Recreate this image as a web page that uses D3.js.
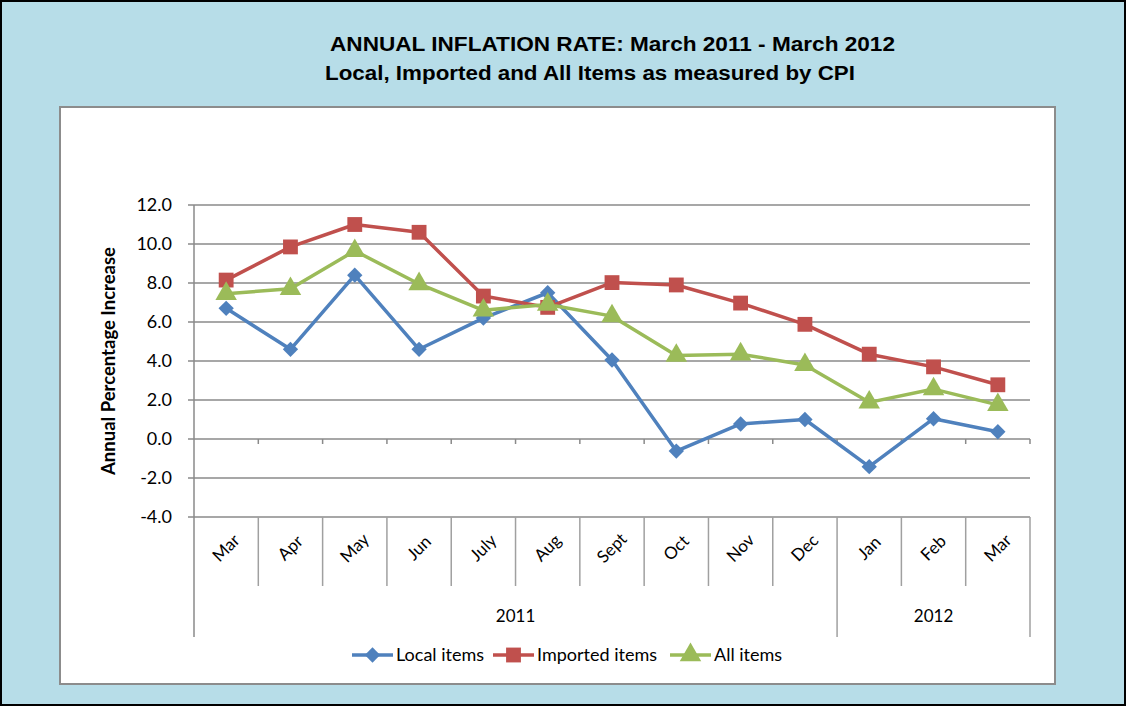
<!DOCTYPE html>
<html>
<head>
<meta charset="utf-8">
<script src="https://cdn.jsdelivr.net/npm/d3@7"></script>
<style>
  body { margin: 0; padding: 0; background: #ffffff; }
  svg { display: block; }
</style>
</head>
<body>
<div id="chart"></div>
<script>
// data
const MONTHS = ["Mar", "Apr", "May", "Jun", "July", "Aug", "Sept", "Oct", "Nov", "Dec", "Jan", "Feb", "Mar"];
const YEARS = [{ label: "2011", from: 0, to: 10 }, { label: "2012", from: 10, to: 13 }];
const LOCAL = [6.7, 4.6, 8.4, 4.6, 6.2, 7.5, 4.05, -0.62, 0.77, 1.0, -1.42, 1.04, 0.37];
const IMPORTED = [8.15, 9.85, 11.0, 10.6, 7.33, 6.75, 8.02, 7.9, 6.97, 5.88, 4.35, 3.7, 2.78];
const ALL = [7.45, 7.7, 9.65, 7.95, 6.6, 6.9, 6.3, 4.28, 4.35, 3.8, 1.88, 2.56, 1.75];
const Y_TICKS = [-4, -2, 0, 2, 4, 6, 8, 10, 12];
const SERIES_NAMES = ["Local items", "Imported items", "All items"];

const FRAME_WIDTH = 1126;
const FRAME_HEIGHT = 706;
const PLOT = { left: 194, right: 1030, top: 205, bottom: 517 };

const COLORS = ["#4f81bd", "#c0504d", "#9bbb59"];
const SYMBOLS = [d3.symbolDiamond2, d3.symbolSquare, d3.symbolTriangle];
const SYM_SIZE = [150, 220, 200];

const FRAME = d3.select("#chart")
    .append("svg")
    .attr("width", FRAME_WIDTH)
    .attr("height", FRAME_HEIGHT);

// outer background + black border
FRAME.append("rect")
    .attr("x", 1).attr("y", 1)
    .attr("width", FRAME_WIDTH - 2).attr("height", FRAME_HEIGHT - 2)
    .attr("fill", "#b7dde8")
    .attr("stroke", "#000").attr("stroke-width", 2);

// titles
FRAME.append("text")
    .attr("x", 330).attr("y", 51)
    .attr("font-family", "Liberation Sans, Arial, sans-serif")
    .attr("font-weight", "bold").attr("font-size", "20px")
    .attr("textLength", 565).attr("lengthAdjust", "spacingAndGlyphs")
    .text("ANNUAL INFLATION RATE: March 2011 - March 2012");
FRAME.append("text")
    .attr("x", 325).attr("y", 80)
    .attr("font-family", "Liberation Sans, Arial, sans-serif")
    .attr("font-weight", "bold").attr("font-size", "20px")
    .attr("textLength", 530).attr("lengthAdjust", "spacingAndGlyphs")
    .text("Local, Imported and All Items as measured by CPI");

// white chart box
FRAME.append("rect")
    .attr("x", 60).attr("y", 107)
    .attr("width", 995).attr("height", 577)
    .attr("fill", "#fff")
    .attr("stroke", "#8c8c8c").attr("stroke-width", 2);

const X_SCALE = d3.scaleBand()
    .domain(d3.range(MONTHS.length))
    .range([PLOT.left, PLOT.right]);
const Y_SCALE = d3.scaleLinear()
    .domain([-4, 12])
    .range([PLOT.bottom, PLOT.top]);

const FONT = "Lato, 'Open Sans', sans-serif";

// gridlines
FRAME.append("g")
    .selectAll("line")
    .data(Y_TICKS)
    .enter()
    .append("line")
    .attr("x1", PLOT.left - 6).attr("x2", PLOT.right)
    .attr("y1", (d) => Y_SCALE(d)).attr("y2", (d) => Y_SCALE(d))
    .attr("stroke", "#8a8a8a").attr("stroke-width", 1.5);

// y tick labels
FRAME.append("g")
    .selectAll("text")
    .data(Y_TICKS)
    .enter()
    .append("text")
    .attr("x", 172)
    .attr("y", (d) => Y_SCALE(d) + 6)
    .attr("text-anchor", "end")
    .attr("font-family", FONT).attr("font-size", "18px")
    .attr("fill", "#000")
    .text((d) => d.toFixed(1));

// y axis line
FRAME.append("line")
    .attr("x1", PLOT.left).attr("x2", PLOT.left)
    .attr("y1", PLOT.top).attr("y2", 637)
    .attr("stroke", "#8a8a8a").attr("stroke-width", 1.5);

// ticks hanging off the zero line
FRAME.append("g")
    .selectAll("line")
    .data(d3.range(1, MONTHS.length + 1))
    .enter()
    .append("line")
    .attr("x1", (d) => PLOT.left + d * X_SCALE.bandwidth())
    .attr("x2", (d) => PLOT.left + d * X_SCALE.bandwidth())
    .attr("y1", Y_SCALE(0)).attr("y2", Y_SCALE(0) + 5)
    .attr("stroke", "#8a8a8a").attr("stroke-width", 1.5);

// category separators below the plot
FRAME.append("g")
    .selectAll("line")
    .data(d3.range(1, MONTHS.length + 1))
    .enter()
    .append("line")
    .attr("x1", (d) => PLOT.left + d * X_SCALE.bandwidth())
    .attr("x2", (d) => PLOT.left + d * X_SCALE.bandwidth())
    .attr("y1", PLOT.bottom)
    .attr("y2", (d) => (YEARS.some((y) => y.to === d) ? 637 : 586))
    .attr("stroke", "#a0a0a0").attr("stroke-width", 1.5);

// month labels
FRAME.append("g")
    .selectAll("text")
    .data(MONTHS)
    .enter()
    .append("text")
    .attr("transform", (d, i) => "translate(" + (X_SCALE(i) + X_SCALE.bandwidth() / 2 + 4) + ",552) rotate(-45)")
    .attr("text-anchor", "middle")
    .attr("font-family", FONT).attr("font-size", "17px")
    .text((d) => d);

// year labels
FRAME.append("g")
    .selectAll("text")
    .data(YEARS)
    .enter()
    .append("text")
    .attr("x", (d) => (PLOT.left + d.from * X_SCALE.bandwidth() + PLOT.left + d.to * X_SCALE.bandwidth()) / 2)
    .attr("y", 622)
    .attr("text-anchor", "middle")
    .attr("font-family", FONT).attr("font-size", "17px")
    .text((d) => d.label);

// y axis title
FRAME.append("text")
    .attr("transform", "translate(115,361) rotate(-90)")
    .attr("text-anchor", "middle")
    .attr("font-family", FONT).attr("font-weight", "bold").attr("font-size", "18.5px")
    .text("Annual Percentage Increase");

// lines + markers
const seriesData = [LOCAL, IMPORTED, ALL];
const line = d3.line()
    .x((d, i) => X_SCALE(i) + X_SCALE.bandwidth() / 2)
    .y((d) => Y_SCALE(d));

seriesData.forEach((vals, s) => {
    FRAME.append("path")
        .datum(vals)
        .attr("d", line)
        .attr("fill", "none")
        .attr("stroke", COLORS[s])
        .attr("stroke-width", 3.5)
        .attr("stroke-linejoin", "round");
});
seriesData.forEach((vals, s) => {
    FRAME.append("g")
        .selectAll("path")
        .data(vals)
        .enter()
        .append("path")
        .attr("d", d3.symbol().type(SYMBOLS[s]).size(SYM_SIZE[s]))
        .attr("transform", (d, i) => "translate(" + (X_SCALE(i) + X_SCALE.bandwidth() / 2) + "," + Y_SCALE(d) + ")")
        .attr("fill", COLORS[s]);
});

// legend
const LEGEND_X = [352, 493, 670];
const legend = FRAME.append("g");
SERIES_NAMES.forEach((name, s) => {
    const g = legend.append("g").attr("transform", "translate(" + LEGEND_X[s] + ",655)");
    g.append("line")
        .attr("x1", 0).attr("x2", 41)
        .attr("stroke", COLORS[s]).attr("stroke-width", 3.5);
    g.append("path")
        .attr("d", d3.symbol().type(SYMBOLS[s]).size(SYM_SIZE[s]))
        .attr("transform", "translate(20.5,0)")
        .attr("fill", COLORS[s]);
    g.append("text")
        .attr("x", 44).attr("y", 6)
        .attr("font-family", FONT).attr("font-size", "18px")
        .text(name);
});
</script>
</body>
</html>
